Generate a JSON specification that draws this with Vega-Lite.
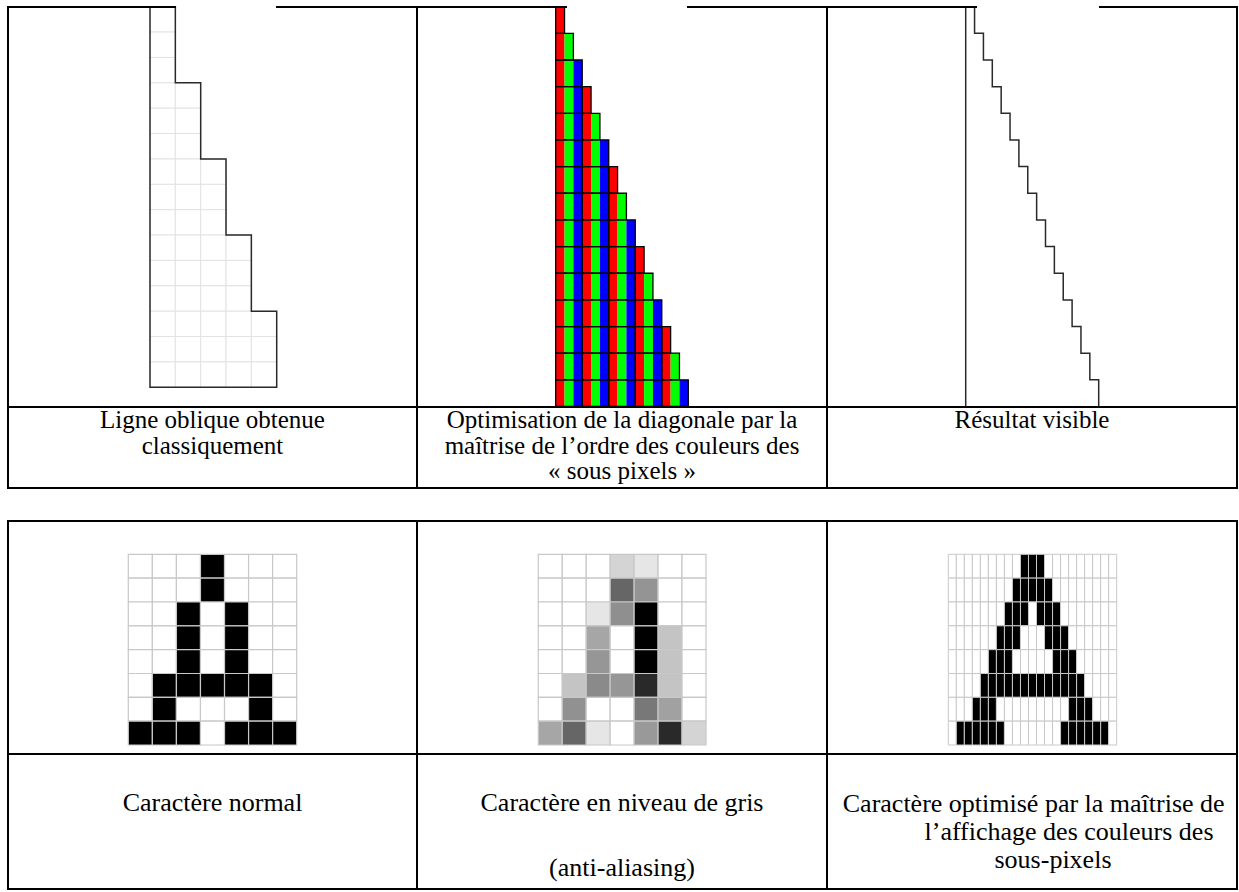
{
"$schema": "https://vega.github.io/schema/vega-lite/v6.json",
"width": 1239, "height": 892, "padding": 0, "autosize": {"type": "none"},
"background": "white",
"config": {"view": {"stroke": null}},
"datasets": {
"borders": [
{"x1":8,"x2":175,"y1":7,"y2":7},{"x1":277,"x2":566,"y1":7,"y2":7},{"x1":688,"x2":976,"y1":7,"y2":7},{"x1":1100,"x2":1237,"y1":7,"y2":7},
{"x1":8,"x2":1237,"y1":407,"y2":407},{"x1":8,"x2":1237,"y1":488,"y2":488},
{"x1":8,"x2":8,"y1":7,"y2":488},{"x1":417,"x2":417,"y1":7,"y2":488},{"x1":827,"x2":827,"y1":7,"y2":488},{"x1":1237,"x2":1237,"y1":7,"y2":488},
{"x1":8,"x2":1237,"y1":521,"y2":521},{"x1":8,"x2":1237,"y1":754,"y2":754},{"x1":8,"x2":1237,"y1":889,"y2":889},
{"x1":8,"x2":8,"y1":521,"y2":889},{"x1":417,"x2":417,"y1":521,"y2":889},{"x1":827,"x2":827,"y1":521,"y2":889},{"x1":1237,"x2":1237,"y1":521,"y2":889}
],
"texts": [
{"x":212.5,"y":428,"t":"Ligne oblique obtenue","s":"top"},
{"x":212.5,"y":454,"t":"classiquement","s":"top"},
{"x":622,"y":428,"t":"Optimisation de la diagonale par la","s":"top"},
{"x":622,"y":453.5,"t":"maîtrise de l’ordre des couleurs des","s":"top"},
{"x":622,"y":479,"t":"« sous pixels »","s":"top"},
{"x":1032,"y":428,"t":"Résultat visible","s":"top"},
{"x":212.5,"y":811,"t":"Caractère normal","s":"bottom"},
{"x":622,"y":811,"t":"Caractère en niveau de gris","s":"bottom"},
{"x":622,"y":876,"t":"(anti-aliasing)","s":"bottom"},
{"x":1033.7,"y":812,"t":"Caractère optimisé par la maîtrise de","s":"bottom"},
{"x":1069,"y":840,"t":"l’affichage des couleurs des","s":"bottom"},
{"x":1053,"y":868,"t":"sous-pixels","s":"bottom"}
],
"p1cells": [
{"c":0,"r":0},{"c":0,"r":1},{"c":0,"r":2},{"c":0,"r":3},{"c":0,"r":4},{"c":0,"r":5},{"c":0,"r":6},{"c":0,"r":7},{"c":0,"r":8},{"c":0,"r":9},{"c":0,"r":10},{"c":0,"r":11},{"c":0,"r":12},{"c":0,"r":13},{"c":0,"r":14},
{"c":1,"r":3},{"c":1,"r":4},{"c":1,"r":5},{"c":1,"r":6},{"c":1,"r":7},{"c":1,"r":8},{"c":1,"r":9},{"c":1,"r":10},{"c":1,"r":11},{"c":1,"r":12},{"c":1,"r":13},{"c":1,"r":14},
{"c":2,"r":6},{"c":2,"r":7},{"c":2,"r":8},{"c":2,"r":9},{"c":2,"r":10},{"c":2,"r":11},{"c":2,"r":12},{"c":2,"r":13},{"c":2,"r":14},
{"c":3,"r":9},{"c":3,"r":10},{"c":3,"r":11},{"c":3,"r":12},{"c":3,"r":13},{"c":3,"r":14},
{"c":4,"r":12},{"c":4,"r":13},{"c":4,"r":14}
],
"p1line": [
{"o":0,"x":0,"y":0},{"o":1,"x":1,"y":0},{"o":2,"x":1,"y":3},{"o":3,"x":2,"y":3},{"o":4,"x":2,"y":6},{"o":5,"x":3,"y":6},{"o":6,"x":3,"y":9},{"o":7,"x":4,"y":9},{"o":8,"x":4,"y":12},{"o":9,"x":5,"y":12},{"o":10,"x":5,"y":15},{"o":11,"x":0,"y":15},{"o":12,"x":0,"y":0}
],
"p2sub": [
{"r":0,"s":0,"ch":"R"},
{"r":1,"s":0,"ch":"R"},{"r":1,"s":1,"ch":"G"},
{"r":2,"s":0,"ch":"R"},{"r":2,"s":1,"ch":"G"},{"r":2,"s":2,"ch":"B"},
{"r":3,"s":0,"ch":"R"},{"r":3,"s":1,"ch":"G"},{"r":3,"s":2,"ch":"B"},{"r":3,"s":3,"ch":"R"},
{"r":4,"s":0,"ch":"R"},{"r":4,"s":1,"ch":"G"},{"r":4,"s":2,"ch":"B"},{"r":4,"s":3,"ch":"R"},{"r":4,"s":4,"ch":"G"},
{"r":5,"s":0,"ch":"R"},{"r":5,"s":1,"ch":"G"},{"r":5,"s":2,"ch":"B"},{"r":5,"s":3,"ch":"R"},{"r":5,"s":4,"ch":"G"},{"r":5,"s":5,"ch":"B"},
{"r":6,"s":0,"ch":"R"},{"r":6,"s":1,"ch":"G"},{"r":6,"s":2,"ch":"B"},{"r":6,"s":3,"ch":"R"},{"r":6,"s":4,"ch":"G"},{"r":6,"s":5,"ch":"B"},{"r":6,"s":6,"ch":"R"},
{"r":7,"s":0,"ch":"R"},{"r":7,"s":1,"ch":"G"},{"r":7,"s":2,"ch":"B"},{"r":7,"s":3,"ch":"R"},{"r":7,"s":4,"ch":"G"},{"r":7,"s":5,"ch":"B"},{"r":7,"s":6,"ch":"R"},{"r":7,"s":7,"ch":"G"},
{"r":8,"s":0,"ch":"R"},{"r":8,"s":1,"ch":"G"},{"r":8,"s":2,"ch":"B"},{"r":8,"s":3,"ch":"R"},{"r":8,"s":4,"ch":"G"},{"r":8,"s":5,"ch":"B"},{"r":8,"s":6,"ch":"R"},{"r":8,"s":7,"ch":"G"},{"r":8,"s":8,"ch":"B"},
{"r":9,"s":0,"ch":"R"},{"r":9,"s":1,"ch":"G"},{"r":9,"s":2,"ch":"B"},{"r":9,"s":3,"ch":"R"},{"r":9,"s":4,"ch":"G"},{"r":9,"s":5,"ch":"B"},{"r":9,"s":6,"ch":"R"},{"r":9,"s":7,"ch":"G"},{"r":9,"s":8,"ch":"B"},{"r":9,"s":9,"ch":"R"},
{"r":10,"s":0,"ch":"R"},{"r":10,"s":1,"ch":"G"},{"r":10,"s":2,"ch":"B"},{"r":10,"s":3,"ch":"R"},{"r":10,"s":4,"ch":"G"},{"r":10,"s":5,"ch":"B"},{"r":10,"s":6,"ch":"R"},{"r":10,"s":7,"ch":"G"},{"r":10,"s":8,"ch":"B"},{"r":10,"s":9,"ch":"R"},{"r":10,"s":10,"ch":"G"},
{"r":11,"s":0,"ch":"R"},{"r":11,"s":1,"ch":"G"},{"r":11,"s":2,"ch":"B"},{"r":11,"s":3,"ch":"R"},{"r":11,"s":4,"ch":"G"},{"r":11,"s":5,"ch":"B"},{"r":11,"s":6,"ch":"R"},{"r":11,"s":7,"ch":"G"},{"r":11,"s":8,"ch":"B"},{"r":11,"s":9,"ch":"R"},{"r":11,"s":10,"ch":"G"},{"r":11,"s":11,"ch":"B"},
{"r":12,"s":0,"ch":"R"},{"r":12,"s":1,"ch":"G"},{"r":12,"s":2,"ch":"B"},{"r":12,"s":3,"ch":"R"},{"r":12,"s":4,"ch":"G"},{"r":12,"s":5,"ch":"B"},{"r":12,"s":6,"ch":"R"},{"r":12,"s":7,"ch":"G"},{"r":12,"s":8,"ch":"B"},{"r":12,"s":9,"ch":"R"},{"r":12,"s":10,"ch":"G"},{"r":12,"s":11,"ch":"B"},{"r":12,"s":12,"ch":"R"},
{"r":13,"s":0,"ch":"R"},{"r":13,"s":1,"ch":"G"},{"r":13,"s":2,"ch":"B"},{"r":13,"s":3,"ch":"R"},{"r":13,"s":4,"ch":"G"},{"r":13,"s":5,"ch":"B"},{"r":13,"s":6,"ch":"R"},{"r":13,"s":7,"ch":"G"},{"r":13,"s":8,"ch":"B"},{"r":13,"s":9,"ch":"R"},{"r":13,"s":10,"ch":"G"},{"r":13,"s":11,"ch":"B"},{"r":13,"s":12,"ch":"R"},{"r":13,"s":13,"ch":"G"},
{"r":14,"s":0,"ch":"R"},{"r":14,"s":1,"ch":"G"},{"r":14,"s":2,"ch":"B"},{"r":14,"s":3,"ch":"R"},{"r":14,"s":4,"ch":"G"},{"r":14,"s":5,"ch":"B"},{"r":14,"s":6,"ch":"R"},{"r":14,"s":7,"ch":"G"},{"r":14,"s":8,"ch":"B"},{"r":14,"s":9,"ch":"R"},{"r":14,"s":10,"ch":"G"},{"r":14,"s":11,"ch":"B"},{"r":14,"s":12,"ch":"R"},{"r":14,"s":13,"ch":"G"},{"r":14,"s":14,"ch":"B"}
],
"p2pix": [
{"r":0,"x0":0,"x1":1},
{"r":1,"x0":0,"x1":2},
{"r":2,"x0":0,"x1":3},
{"r":3,"x0":0,"x1":3},{"r":3,"x0":3,"x1":4},
{"r":4,"x0":0,"x1":3},{"r":4,"x0":3,"x1":5},
{"r":5,"x0":0,"x1":3},{"r":5,"x0":3,"x1":6},
{"r":6,"x0":0,"x1":3},{"r":6,"x0":3,"x1":6},{"r":6,"x0":6,"x1":7},
{"r":7,"x0":0,"x1":3},{"r":7,"x0":3,"x1":6},{"r":7,"x0":6,"x1":8},
{"r":8,"x0":0,"x1":3},{"r":8,"x0":3,"x1":6},{"r":8,"x0":6,"x1":9},
{"r":9,"x0":0,"x1":3},{"r":9,"x0":3,"x1":6},{"r":9,"x0":6,"x1":9},{"r":9,"x0":9,"x1":10},
{"r":10,"x0":0,"x1":3},{"r":10,"x0":3,"x1":6},{"r":10,"x0":6,"x1":9},{"r":10,"x0":9,"x1":11},
{"r":11,"x0":0,"x1":3},{"r":11,"x0":3,"x1":6},{"r":11,"x0":6,"x1":9},{"r":11,"x0":9,"x1":12},
{"r":12,"x0":0,"x1":3},{"r":12,"x0":3,"x1":6},{"r":12,"x0":6,"x1":9},{"r":12,"x0":9,"x1":12},{"r":12,"x0":12,"x1":13},
{"r":13,"x0":0,"x1":3},{"r":13,"x0":3,"x1":6},{"r":13,"x0":6,"x1":9},{"r":13,"x0":9,"x1":12},{"r":13,"x0":12,"x1":14},
{"r":14,"x0":0,"x1":3},{"r":14,"x0":3,"x1":6},{"r":14,"x0":6,"x1":9},{"r":14,"x0":9,"x1":12},{"r":14,"x0":12,"x1":15}
],
"p3line": [
{"o":0,"x":0,"y":15},{"o":1,"x":0,"y":0},{"o":2,"x":1,"y":0},{"o":3,"x":1,"y":1},{"o":4,"x":2,"y":1},{"o":5,"x":2,"y":2},{"o":6,"x":3,"y":2},{"o":7,"x":3,"y":3},{"o":8,"x":4,"y":3},{"o":9,"x":4,"y":4},{"o":10,"x":5,"y":4},{"o":11,"x":5,"y":5},{"o":12,"x":6,"y":5},{"o":13,"x":6,"y":6},{"o":14,"x":7,"y":6},{"o":15,"x":7,"y":7},{"o":16,"x":8,"y":7},{"o":17,"x":8,"y":8},{"o":18,"x":9,"y":8},{"o":19,"x":9,"y":9},{"o":20,"x":10,"y":9},{"o":21,"x":10,"y":10},{"o":22,"x":11,"y":10},{"o":23,"x":11,"y":11},{"o":24,"x":12,"y":11},{"o":25,"x":12,"y":12},{"o":26,"x":13,"y":12},{"o":27,"x":13,"y":13},{"o":28,"x":14,"y":13},{"o":29,"x":14,"y":14},{"o":30,"x":15,"y":14},{"o":31,"x":15,"y":15}
],
"normalA": [
{"r":0,"c":0,"v":0},{"r":0,"c":1,"v":0},{"r":0,"c":2,"v":0},{"r":0,"c":3,"v":1},{"r":0,"c":4,"v":0},{"r":0,"c":5,"v":0},{"r":0,"c":6,"v":0},
{"r":1,"c":0,"v":0},{"r":1,"c":1,"v":0},{"r":1,"c":2,"v":0},{"r":1,"c":3,"v":1},{"r":1,"c":4,"v":0},{"r":1,"c":5,"v":0},{"r":1,"c":6,"v":0},
{"r":2,"c":0,"v":0},{"r":2,"c":1,"v":0},{"r":2,"c":2,"v":1},{"r":2,"c":3,"v":0},{"r":2,"c":4,"v":1},{"r":2,"c":5,"v":0},{"r":2,"c":6,"v":0},
{"r":3,"c":0,"v":0},{"r":3,"c":1,"v":0},{"r":3,"c":2,"v":1},{"r":3,"c":3,"v":0},{"r":3,"c":4,"v":1},{"r":3,"c":5,"v":0},{"r":3,"c":6,"v":0},
{"r":4,"c":0,"v":0},{"r":4,"c":1,"v":0},{"r":4,"c":2,"v":1},{"r":4,"c":3,"v":0},{"r":4,"c":4,"v":1},{"r":4,"c":5,"v":0},{"r":4,"c":6,"v":0},
{"r":5,"c":0,"v":0},{"r":5,"c":1,"v":1},{"r":5,"c":2,"v":1},{"r":5,"c":3,"v":1},{"r":5,"c":4,"v":1},{"r":5,"c":5,"v":1},{"r":5,"c":6,"v":0},
{"r":6,"c":0,"v":0},{"r":6,"c":1,"v":1},{"r":6,"c":2,"v":0},{"r":6,"c":3,"v":0},{"r":6,"c":4,"v":0},{"r":6,"c":5,"v":1},{"r":6,"c":6,"v":0},
{"r":7,"c":0,"v":1},{"r":7,"c":1,"v":1},{"r":7,"c":2,"v":1},{"r":7,"c":3,"v":0},{"r":7,"c":4,"v":1},{"r":7,"c":5,"v":1},{"r":7,"c":6,"v":1}
],
"grayA": [
{"r":0,"c":0,"v":0},{"r":0,"c":1,"v":0},{"r":0,"c":2,"v":0},{"r":0,"c":3,"v":0.17},{"r":0,"c":4,"v":0.1},{"r":0,"c":5,"v":0},{"r":0,"c":6,"v":0},
{"r":1,"c":0,"v":0},{"r":1,"c":1,"v":0},{"r":1,"c":2,"v":0},{"r":1,"c":3,"v":0.6},{"r":1,"c":4,"v":0.42},{"r":1,"c":5,"v":0},{"r":1,"c":6,"v":0},
{"r":2,"c":0,"v":0},{"r":2,"c":1,"v":0},{"r":2,"c":2,"v":0.1},{"r":2,"c":3,"v":0.44},{"r":2,"c":4,"v":1},{"r":2,"c":5,"v":0},{"r":2,"c":6,"v":0},
{"r":3,"c":0,"v":0},{"r":3,"c":1,"v":0},{"r":3,"c":2,"v":0.35},{"r":3,"c":3,"v":0},{"r":3,"c":4,"v":1},{"r":3,"c":5,"v":0.23},{"r":3,"c":6,"v":0},
{"r":4,"c":0,"v":0},{"r":4,"c":1,"v":0},{"r":4,"c":2,"v":0.41},{"r":4,"c":3,"v":0},{"r":4,"c":4,"v":1},{"r":4,"c":5,"v":0.23},{"r":4,"c":6,"v":0},
{"r":5,"c":0,"v":0},{"r":5,"c":1,"v":0.23},{"r":5,"c":2,"v":0.46},{"r":5,"c":3,"v":0.41},{"r":5,"c":4,"v":0.84},{"r":5,"c":5,"v":0.23},{"r":5,"c":6,"v":0},
{"r":6,"c":0,"v":0},{"r":6,"c":1,"v":0.43},{"r":6,"c":2,"v":0},{"r":6,"c":3,"v":0},{"r":6,"c":4,"v":0.53},{"r":6,"c":5,"v":0.37},{"r":6,"c":6,"v":0},
{"r":7,"c":0,"v":0.35},{"r":7,"c":1,"v":0.6},{"r":7,"c":2,"v":0.1},{"r":7,"c":3,"v":0},{"r":7,"c":4,"v":0.4},{"r":7,"c":5,"v":0.84},{"r":7,"c":6,"v":0.17}
],
"subA": [
{"r":0,"c":0,"v":0},{"r":0,"c":1,"v":0},{"r":0,"c":2,"v":0},{"r":0,"c":3,"v":0},{"r":0,"c":4,"v":0},{"r":0,"c":5,"v":0},{"r":0,"c":6,"v":0},{"r":0,"c":7,"v":0},{"r":0,"c":8,"v":0},{"r":0,"c":9,"v":1},{"r":0,"c":10,"v":1},{"r":0,"c":11,"v":1},{"r":0,"c":12,"v":0},{"r":0,"c":13,"v":0},{"r":0,"c":14,"v":0},{"r":0,"c":15,"v":0},{"r":0,"c":16,"v":0},{"r":0,"c":17,"v":0},{"r":0,"c":18,"v":0},{"r":0,"c":19,"v":0},{"r":0,"c":20,"v":0},
{"r":1,"c":0,"v":0},{"r":1,"c":1,"v":0},{"r":1,"c":2,"v":0},{"r":1,"c":3,"v":0},{"r":1,"c":4,"v":0},{"r":1,"c":5,"v":0},{"r":1,"c":6,"v":0},{"r":1,"c":7,"v":0},{"r":1,"c":8,"v":1},{"r":1,"c":9,"v":1},{"r":1,"c":10,"v":1},{"r":1,"c":11,"v":1},{"r":1,"c":12,"v":1},{"r":1,"c":13,"v":0},{"r":1,"c":14,"v":0},{"r":1,"c":15,"v":0},{"r":1,"c":16,"v":0},{"r":1,"c":17,"v":0},{"r":1,"c":18,"v":0},{"r":1,"c":19,"v":0},{"r":1,"c":20,"v":0},
{"r":2,"c":0,"v":0},{"r":2,"c":1,"v":0},{"r":2,"c":2,"v":0},{"r":2,"c":3,"v":0},{"r":2,"c":4,"v":0},{"r":2,"c":5,"v":0},{"r":2,"c":6,"v":0},{"r":2,"c":7,"v":1},{"r":2,"c":8,"v":1},{"r":2,"c":9,"v":1},{"r":2,"c":10,"v":0},{"r":2,"c":11,"v":1},{"r":2,"c":12,"v":1},{"r":2,"c":13,"v":1},{"r":2,"c":14,"v":0},{"r":2,"c":15,"v":0},{"r":2,"c":16,"v":0},{"r":2,"c":17,"v":0},{"r":2,"c":18,"v":0},{"r":2,"c":19,"v":0},{"r":2,"c":20,"v":0},
{"r":3,"c":0,"v":0},{"r":3,"c":1,"v":0},{"r":3,"c":2,"v":0},{"r":3,"c":3,"v":0},{"r":3,"c":4,"v":0},{"r":3,"c":5,"v":0},{"r":3,"c":6,"v":1},{"r":3,"c":7,"v":1},{"r":3,"c":8,"v":1},{"r":3,"c":9,"v":0},{"r":3,"c":10,"v":0},{"r":3,"c":11,"v":0},{"r":3,"c":12,"v":1},{"r":3,"c":13,"v":1},{"r":3,"c":14,"v":1},{"r":3,"c":15,"v":0},{"r":3,"c":16,"v":0},{"r":3,"c":17,"v":0},{"r":3,"c":18,"v":0},{"r":3,"c":19,"v":0},{"r":3,"c":20,"v":0},
{"r":4,"c":0,"v":0},{"r":4,"c":1,"v":0},{"r":4,"c":2,"v":0},{"r":4,"c":3,"v":0},{"r":4,"c":4,"v":0},{"r":4,"c":5,"v":1},{"r":4,"c":6,"v":1},{"r":4,"c":7,"v":1},{"r":4,"c":8,"v":0},{"r":4,"c":9,"v":0},{"r":4,"c":10,"v":0},{"r":4,"c":11,"v":0},{"r":4,"c":12,"v":0},{"r":4,"c":13,"v":1},{"r":4,"c":14,"v":1},{"r":4,"c":15,"v":1},{"r":4,"c":16,"v":0},{"r":4,"c":17,"v":0},{"r":4,"c":18,"v":0},{"r":4,"c":19,"v":0},{"r":4,"c":20,"v":0},
{"r":5,"c":0,"v":0},{"r":5,"c":1,"v":0},{"r":5,"c":2,"v":0},{"r":5,"c":3,"v":0},{"r":5,"c":4,"v":1},{"r":5,"c":5,"v":1},{"r":5,"c":6,"v":1},{"r":5,"c":7,"v":1},{"r":5,"c":8,"v":1},{"r":5,"c":9,"v":1},{"r":5,"c":10,"v":1},{"r":5,"c":11,"v":1},{"r":5,"c":12,"v":1},{"r":5,"c":13,"v":1},{"r":5,"c":14,"v":1},{"r":5,"c":15,"v":1},{"r":5,"c":16,"v":1},{"r":5,"c":17,"v":0},{"r":5,"c":18,"v":0},{"r":5,"c":19,"v":0},{"r":5,"c":20,"v":0},
{"r":6,"c":0,"v":0},{"r":6,"c":1,"v":0},{"r":6,"c":2,"v":0},{"r":6,"c":3,"v":1},{"r":6,"c":4,"v":1},{"r":6,"c":5,"v":1},{"r":6,"c":6,"v":0},{"r":6,"c":7,"v":0},{"r":6,"c":8,"v":0},{"r":6,"c":9,"v":0},{"r":6,"c":10,"v":0},{"r":6,"c":11,"v":0},{"r":6,"c":12,"v":0},{"r":6,"c":13,"v":0},{"r":6,"c":14,"v":0},{"r":6,"c":15,"v":1},{"r":6,"c":16,"v":1},{"r":6,"c":17,"v":1},{"r":6,"c":18,"v":0},{"r":6,"c":19,"v":0},{"r":6,"c":20,"v":0},
{"r":7,"c":0,"v":0},{"r":7,"c":1,"v":1},{"r":7,"c":2,"v":1},{"r":7,"c":3,"v":1},{"r":7,"c":4,"v":1},{"r":7,"c":5,"v":1},{"r":7,"c":6,"v":1},{"r":7,"c":7,"v":0},{"r":7,"c":8,"v":0},{"r":7,"c":9,"v":0},{"r":7,"c":10,"v":0},{"r":7,"c":11,"v":0},{"r":7,"c":12,"v":0},{"r":7,"c":13,"v":0},{"r":7,"c":14,"v":1},{"r":7,"c":15,"v":1},{"r":7,"c":16,"v":1},{"r":7,"c":17,"v":1},{"r":7,"c":18,"v":1},{"r":7,"c":19,"v":1},{"r":7,"c":20,"v":0}
]
},
"layer": [
{"data": {"name": "p1cells"},
 "mark": {"type": "rect", "fill": "white", "stroke": "#e2e2e2", "strokeWidth": 1},
 "encoding": {
  "x": {"field": "c", "type": "ordinal", "scale": {"type": "band", "domain": [0,1,2,3,4], "range": [150, 276.7], "paddingInner": 0, "paddingOuter": 0}, "axis": null},
  "y": {"field": "r", "type": "ordinal", "scale": {"type": "band", "domain": [0,1,2,3,4,5,6,7,8,9,10,11,12,13,14], "range": [6.7, 387.3], "paddingInner": 0, "paddingOuter": 0}, "axis": null}}},
{"data": {"name": "p1line"},
 "mark": {"type": "line", "color": "#2a2a2a", "strokeWidth": 1.5, "strokeJoin": "miter"},
 "encoding": {
  "x": {"field": "x", "type": "quantitative", "scale": {"domain": [0,5], "range": [150, 276.7], "nice": false, "zero": false}, "axis": null},
  "y": {"field": "y", "type": "quantitative", "scale": {"domain": [0,15], "range": [6.7, 387.3], "nice": false, "zero": false}, "axis": null},
  "order": {"field": "o", "type": "quantitative"}}},
{"data": {"name": "p2sub"},
 "mark": {"type": "rect", "strokeWidth": 0},
 "encoding": {
  "x": {"field": "s", "type": "ordinal", "scale": {"type": "band", "domain": [0,1,2,3,4,5,6,7,8,9,10,11,12,13,14], "range": [555.7, 688.3], "paddingInner": 0, "paddingOuter": 0}, "axis": null},
  "y": {"field": "r", "type": "ordinal", "scale": {"type": "band", "domain": [0,1,2,3,4,5,6,7,8,9,10,11,12,13,14], "range": [6.7, 406.5], "paddingInner": 0, "paddingOuter": 0}, "axis": null},
  "fill": {"field": "ch", "type": "nominal", "scale": {"domain": ["R","G","B"], "range": ["#ff0000","#00ff00","#0000ff"]}, "legend": null}}},
{"data": {"name": "p2pix"},
 "mark": {"type": "rect", "fillOpacity": 0, "stroke": "black", "strokeWidth": 1.3},
 "encoding": {
  "x": {"field": "x0", "type": "quantitative", "scale": {"domain": [0,15], "range": [555.7, 688.3], "nice": false, "zero": false}, "axis": null},
  "x2": {"field": "x1"},
  "y": {"field": "r", "type": "ordinal", "scale": {"type": "band", "domain": [0,1,2,3,4,5,6,7,8,9,10,11,12,13,14], "range": [6.7, 406.5], "paddingInner": 0, "paddingOuter": 0}, "axis": null}}},
{"data": {"name": "p3line"},
 "mark": {"type": "line", "color": "#2a2a2a", "strokeWidth": 1.5, "strokeJoin": "miter"},
 "encoding": {
  "x": {"field": "x", "type": "quantitative", "scale": {"domain": [0,15], "range": [965.7, 1098.7], "nice": false, "zero": false}, "axis": null},
  "y": {"field": "y", "type": "quantitative", "scale": {"domain": [0,15], "range": [6.7, 406.5], "nice": false, "zero": false}, "axis": null},
  "order": {"field": "o", "type": "quantitative"}}},
{"data": {"name": "normalA"},
 "mark": {"type": "rect", "stroke": "#c8c8c8", "strokeWidth": 1.2},
 "encoding": {
  "x": {"field": "c", "type": "ordinal", "scale": {"type": "band", "domain": [0,1,2,3,4,5,6], "range": [128.3, 296.7], "paddingInner": 0, "paddingOuter": 0}, "axis": null},
  "y": {"field": "r", "type": "ordinal", "scale": {"type": "band", "domain": [0,1,2,3,4,5,6,7], "range": [554.3, 745], "paddingInner": 0, "paddingOuter": 0}, "axis": null},
  "fill": {"field": "v", "type": "quantitative", "scale": {"domain": [0,1], "range": ["#ffffff","#000000"], "interpolate": "rgb"}, "legend": null}}},
{"data": {"name": "grayA"},
 "mark": {"type": "rect", "stroke": "#c8c8c8", "strokeWidth": 1.2},
 "encoding": {
  "x": {"field": "c", "type": "ordinal", "scale": {"type": "band", "domain": [0,1,2,3,4,5,6], "range": [538.3, 706], "paddingInner": 0, "paddingOuter": 0}, "axis": null},
  "y": {"field": "r", "type": "ordinal", "scale": {"type": "band", "domain": [0,1,2,3,4,5,6,7], "range": [554.3, 745], "paddingInner": 0, "paddingOuter": 0}, "axis": null},
  "fill": {"field": "v", "type": "quantitative", "scale": {"domain": [0,1], "range": ["#ffffff","#000000"], "interpolate": "rgb"}, "legend": null}}},
{"data": {"name": "subA"},
 "mark": {"type": "rect", "stroke": "#c8c8c8", "strokeWidth": 1},
 "encoding": {
  "x": {"field": "c", "type": "ordinal", "scale": {"type": "band", "domain": [0,1,2,3,4,5,6,7,8,9,10,11,12,13,14,15,16,17,18,19,20], "range": [948.3, 1116.7], "paddingInner": 0, "paddingOuter": 0}, "axis": null},
  "y": {"field": "r", "type": "ordinal", "scale": {"type": "band", "domain": [0,1,2,3,4,5,6,7], "range": [554.3, 745], "paddingInner": 0, "paddingOuter": 0}, "axis": null},
  "fill": {"field": "v", "type": "quantitative", "scale": {"domain": [0,1], "range": ["#ffffff","#000000"], "interpolate": "rgb"}, "legend": null}}},
{"data": {"name": "borders"},
 "mark": {"type": "rule", "color": "black", "strokeWidth": 2, "strokeCap": "square"},
 "encoding": {
  "x": {"field": "x1", "type": "quantitative", "scale": {"domain": [0,1239], "range": [0,1239], "nice": false, "zero": false}, "axis": null},
  "x2": {"field": "x2"},
  "y": {"field": "y1", "type": "quantitative", "scale": {"domain": [0,892], "range": [0,892], "nice": false, "zero": false}, "axis": null},
  "y2": {"field": "y2"}}},
{"data": {"name": "texts"},
 "mark": {"type": "text", "font": "Liberation Serif", "align": "center", "baseline": "alphabetic", "color": "black"},
 "encoding": {
  "x": {"field": "x", "type": "quantitative", "scale": {"domain": [0,1239], "range": [0,1239], "nice": false, "zero": false}, "axis": null},
  "y": {"field": "y", "type": "quantitative", "scale": {"domain": [0,892], "range": [0,892], "nice": false, "zero": false}, "axis": null},
  "size": {"field": "s", "type": "nominal", "scale": {"domain": ["top","bottom"], "range": [25, 26]}, "legend": null},
  "text": {"field": "t", "type": "nominal"}}}
],
"resolve": {"scale": {"x": "independent", "y": "independent", "fill": "independent", "color": "independent", "size": "independent"}}
}
